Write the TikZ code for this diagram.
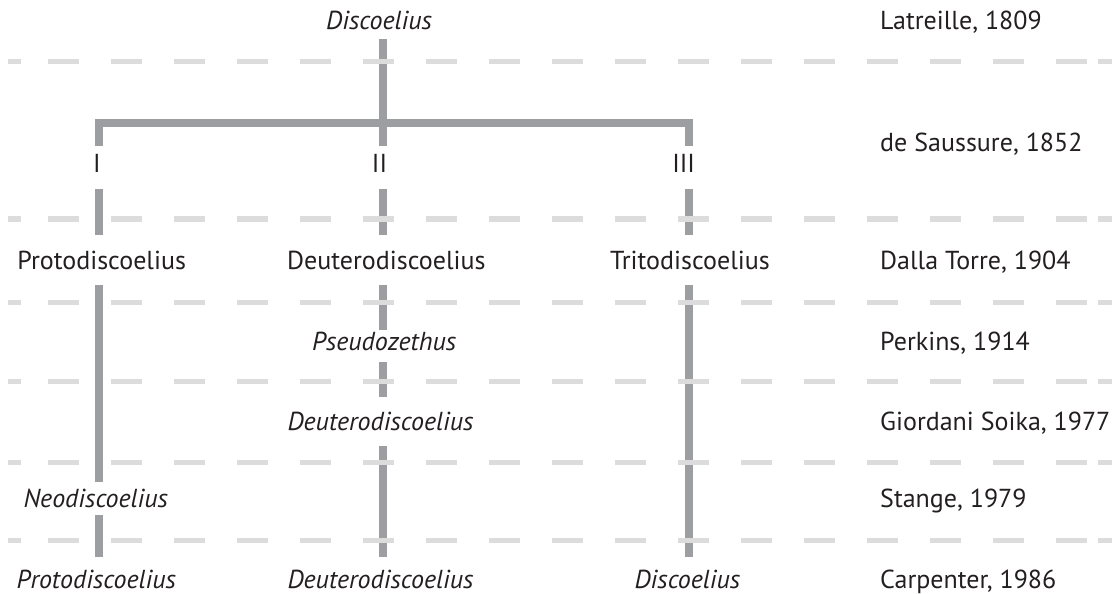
\documentclass[tikz,border=0pt]{standalone}
\usepackage{fontspec}
\setmainfont{PT Sans}
\definecolor{vgray}{RGB}{157,158,162}
\definecolor{dgray}{RGB}{220,220,220}
\definecolor{ink}{RGB}{35,31,32}
\newcommand{\lblfont}{\fontsize{26}{31}\selectfont}
\tikzset{
  vline/.style={line width=8pt, draw=vgray, line cap=butt, line join=miter},
  hdash/.style={line width=5.3pt, draw=dgray, dash pattern=on 31.3pt off 31.7pt},
  hdashend/.style={line width=5.3pt, draw=dgray},
  lbl/.style={anchor=base, inner sep=0pt, text height=16.5pt, text depth=0pt, font=\lblfont, text=ink},
  itl/.style={lbl, font=\lblfont\itshape},
  auth/.style={lbl, anchor=base west},
}
\begin{document}
\begin{tikzpicture}[x=1pt,y=-1pt]
\useasboundingbox (0,0) rectangle (1117,594);
% column axes
\coordinate (c1) at (98.5,0);
\coordinate (c2) at (382.5,0);
\coordinate (c3) at (689,0);
\coordinate (barc) at (382.5,122.5);
% genus labels
\node[itl] (top) at (379,30) {Discoelius};
\node[lbl] (nI) at (97,172.3) {I};
\node[lbl] (nII) at (379.5,172.3) {II};
\node[lbl] (nIII) at (683.6,172.3) {III};
\node[lbl] (proto) at (101.7,269.3) {Protodiscoelius};
\node[lbl] (deut) at (386.3,269.3) {Deuterodiscoelius};
\node[lbl] (trito) at (690,269.3) {Tritodiscoelius};
\node[itl] (pseudo) at (384.2,350) {Pseudozethus};
\node[itl] (deutB) at (380.5,430) {Deuterodiscoelius};
\node[itl] (neo) at (95.8,507) {Neodiscoelius};
\node[itl] (protoC) at (96.3,588) {Protodiscoelius};
\node[itl] (deutC) at (380.5,588) {Deuterodiscoelius};
\node[itl] (discC) at (687.4,588) {Discoelius};
% authors
\node[auth] (a1) at (880,30) {Latreille, 1809};
\node[auth] (a2) at (880,151.7) {de Saussure, 1852};
\node[auth] (a3) at (880,269.3) {Dalla Torre, 1904};
\node[auth] (a4) at (880,350) {Perkins, 1914};
\node[auth] (a5) at (880,430) {Giordani Soika, 1977};
\node[auth] (a6) at (880,507) {Stange, 1979};
\node[auth] (a7) at (880,588) {Carpenter, 1986};
% tree lines
\draw[vline, shorten <=9.3pt, shorten >=10.1pt] (c2 |- top.south) -- (c2 |- nII.north);
\draw[vline, shorten <=10.1pt, shorten >=10.1pt] (c1 |- nI.north) |- (barc) -| (c3 |- nIII.north);
\draw[vline, shorten <=16pt, shorten >=17.8pt] (c1 |- nI.south) -- (c1 |- proto.north);
\draw[vline, shorten <=16pt, shorten >=17.8pt] (c2 |- nII.south) -- (c2 |- deut.north);
\draw[vline, shorten <=16pt, shorten >=17.8pt] (c3 |- nIII.south) -- (c3 |- trito.north);
\draw[vline, shorten <=15pt, shorten >=8.8pt] (c1 |- proto.south) -- (c1 |- neo.north);
\draw[vline, shorten <=8pt, shorten >=14.2pt] (c1 |- neo.south) -- (c1 |- protoC.north);
\draw[vline, shorten <=15pt, shorten >=3.5pt] (c2 |- deut.south) -- (c2 |- pseudo.north);
\draw[vline, shorten <=12.2pt, shorten >=16.8pt] (c2 |- pseudo.south) -- (c2 |- deutB.north);
\draw[vline, shorten <=15.7pt, shorten >=14.2pt] (c2 |- deutB.south) -- (c2 |- deutC.north);
\draw[vline, shorten <=15pt, shorten >=14.2pt] (c3 |- trito.south) -- (c3 |- discC.north);
% dashed period separators
\foreach \yy in {61.7,219,302.3,381.7,462.3,540.5}{
  \draw[hdashend] (8,\yy) -- (21.3,\yy);
  \draw[hdash] (47.7,\yy) -- (1087,\yy);
  \draw[hdashend] (1098.3,\yy) -- (1111.7,\yy);
}
\end{tikzpicture}
\end{document}
